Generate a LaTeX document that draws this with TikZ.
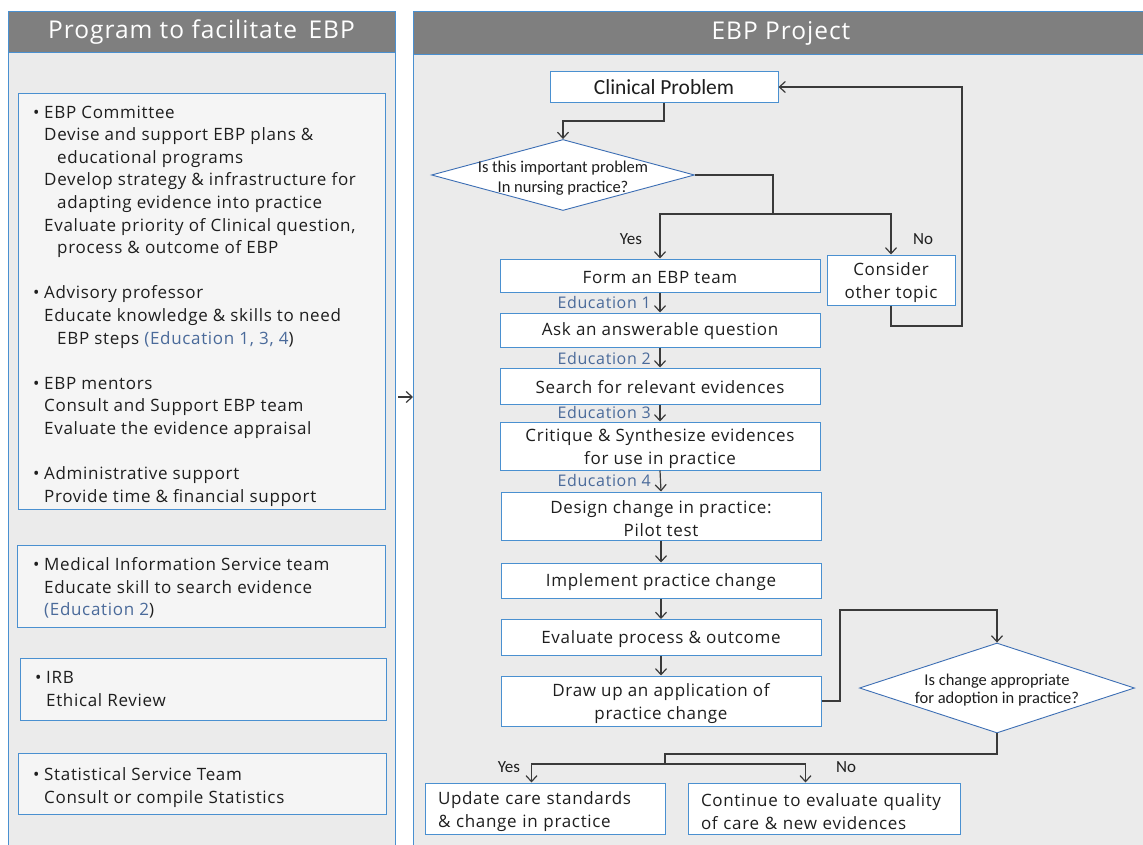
\documentclass[tikz,border=0pt]{standalone}
\usepackage{fontspec}
\setmainfont{Open Sans}[LetterSpace=4]
\newfontfamily\narrowfont{Carlito}
\usetikzlibrary{arrows.meta,shapes.geometric,calc}
\definecolor{frameblue}{HTML}{4A90D0}
\definecolor{panelgray}{HTML}{EBEBEB}
\definecolor{headgray}{HTML}{7F7F7F}
\definecolor{boxfill}{HTML}{F5F5F5}
\definecolor{edublue}{HTML}{4A6A9A}
\definecolor{linegray}{HTML}{3A3A3A}
\definecolor{diamblue}{HTML}{3C6EB4}
\definecolor{txt}{HTML}{1E1E1E}
\newcommand{\bl}{\makebox[11pt][l]{•}}
\newcommand{\ia}{\hspace*{11pt}}
\newcommand{\ib}{\hspace*{24pt}}
\newcommand{\tstrut}{\rule{0pt}{19pt}}
\begin{document}
\begin{tikzpicture}[x=1pt,y=-1pt,
  panel/.style={draw=frameblue, fill=panelgray, line width=1pt},
  head/.style={draw=frameblue, fill=headgray, line width=1pt},
  headtext/.style={text=white, font=\fontsize{24.5}{30}\selectfont},
  lbox/.style={draw=frameblue, fill=boxfill, line width=1pt, anchor=north west, inner sep=0pt},
  ltext/.style={anchor=north west, inner sep=0pt, align=left, text=txt, font=\fontsize{17}{22.6}\selectfont},
  fbox/.style={draw=frameblue, fill=white, line width=1pt, inner sep=0pt, align=center, text=txt, font=\fontsize{17}{23}\selectfont, execute at begin node={\rule{0pt}{16pt}}},
  twoline/.style={execute at begin node={\rule{0pt}{19pt}}},
  dia/.style={diamond, draw=diamblue, fill=white, line width=0.9pt, inner sep=0pt},
  diatext/.style={inner sep=0pt, align=center, text=txt, font=\narrowfont\fontsize{16.5}{20}\selectfont},
  edu/.style={anchor=east, inner sep=0pt, text=edublue, font=\fontsize{16}{18}\selectfont},
  lab/.style={inner sep=0pt, text=txt, font=\narrowfont\fontsize{17}{18}\selectfont},
  conn/.style={draw=linegray, line width=1.2pt},
  arr/.style={conn, -{Straight Barb[length=6pt,width=11pt,line width=1.2pt]}},
]
\useasboundingbox (0,0) rectangle (1143,845);
\clip (0,0) rectangle (1143,845);
\fill[white] (0,0) rectangle (1143,845);

% panels
\draw[panel] (8,12) rectangle (395,860);
\draw[head] (8,12) rectangle (395,53);
\node[headtext] (lhead) at (201.5,32.5) {Program to facilitate\, EBP};
\draw[panel] (413,12) rectangle (1160,860);
\draw[head] (413,12) rectangle (1160,55);
\node[headtext] (rhead) at (781,33) {EBP Project};

% left boxes
\node[lbox, minimum width=367, minimum height=416] (committee) at (18,93) {};
\node[ltext] (committeetxt) at (33,105.5) {\bl EBP Committee\\
\ia Devise and support EBP plans \&\\
\ib educational programs\\
\ia Develop strategy \& infrastructure for\\
\ib adapting evidence into practice\\
\ia Evaluate priority of Clinical question,\\
\ib process \& outcome of EBP\\[22.6pt]
\bl Advisory professor\\
\ia Educate knowledge \& skills to need\\
\ib EBP steps {\color{edublue}(Education 1, 3, 4}) \\[22.6pt]
\bl EBP mentors\\
\ia Consult and Support EBP team\\
\ia Evaluate the evidence appraisal\\[22.6pt]
\bl Administrative support\\
\ia Provide time \& financial support};

\node[lbox, minimum width=368, minimum height=82] (mis) at (17,545) {};
\node[ltext] (mistxt) at (33,557.5) {\bl Medical Information Service team\\
\ia Educate skill to search evidence\\
\ia{\color{edublue}(Education 2})};

\node[lbox, minimum width=366, minimum height=62] (irb) at (20,658) {};
\node[ltext] (irbtxt) at (35,671.5) {\bl IRB\\
\ia Ethical Review};

\node[lbox, minimum width=368, minimum height=61] (stat) at (18,753) {};
\node[ltext] (stattxt) at (33,767.5) {\bl Statistical Service Team\\
\ia Consult or compile Statistics};

\coordinate (la) at (398,397);
\coordinate (ra) at (413,397);
\draw[arr] (la) -- (ra);

% right flowchart
\node[fbox, minimum width=228, minimum height=31, font=\narrowfont\fontsize{21.5}{23}\selectfont, execute at begin node={}] (clin) at (664,87) {Clinical Problem};
\node[dia, minimum width=263, minimum height=71,
  label={[diatext, name=d1t, yshift=-3pt]center:Is this important problem\\In nursing practice?}] (d1) at (563,175) {};
\node[fbox, minimum width=320, minimum height=33] (form) at (660,275.5) {Form an EBP team};
\node[fbox, minimum width=128, minimum height=50, execute at begin node={}] (consider) at (891,280) {\tstrut Consider\\other topic};
\node[fbox, minimum width=320, minimum height=34] (ask) at (660,330) {Ask an answerable question};
\node[fbox, minimum width=320, minimum height=36] (search) at (660,386) {Search for relevant evidences};
\node[fbox, minimum width=320, minimum height=48, execute at begin node={}] (crit) at (660,446) {\tstrut Critique \& Synthesize evidences\\for use in practice};
\node[fbox, minimum width=320, minimum height=48, execute at begin node={}] (design) at (661,516) {\tstrut Design change in practice:\\Pilot test};
\node[fbox, minimum width=320, minimum height=35] (impl) at (661,580.5) {Implement practice change};
\node[fbox, minimum width=320, minimum height=36] (eval) at (661,637.5) {Evaluate process \& outcome};
\node[fbox, minimum width=320, minimum height=50, execute at begin node={}] (drawup) at (661,701) {\tstrut Draw up an application of\\practice change};
\node[dia, minimum width=275, minimum height=90,
  label={[diatext, name=d2t, yshift=-2pt, font=\narrowfont\fontsize{16.5}{18}\selectfont]center:Is change appropriate\\for adoption in practice?}] (d2) at (997,688) {};
\node[fbox, twoline, minimum width=240, minimum height=51, align=left, text width=214, inner xsep=13pt] (update) at (545,808.5) {Update care standards\\\& change in practice};
\node[fbox, twoline, minimum width=272, minimum height=51, align=left, text width=246, inner xsep=13pt] (cont) at (824,808.5) {Continue to evaluate quality\\of care \& new evidences};

% labels
\node[lab] (yes1) at (631,239) {Yes};
\node[lab] (no1) at (923,239) {No};
\node[lab] (yes2) at (509,767) {Yes};
\node[lab] (no2) at (846,767) {No};
\node[edu] (e1) at (651,302) {Education 1};
\node[edu] (e2) at (651,358) {Education 2};
\node[edu] (e3) at (651,412) {Education 3};
\node[edu] (e4) at (651,480) {Education 4};

% connectors
\draw[arr] (clin.south) -- ++(0,18) -| (d1.north);
\coordinate (j1) at (773,214);
\draw[conn] (d1.east) -| (j1);
\draw[arr] (j1) -| (form.north);
\draw[arr] (j1) -| (consider.north);
\coordinate (lp) at (962,326);
\draw[arr] (consider.south) |- (lp) |- (clin.east);
\draw[arr] (form.south) -- (ask.north);
\draw[arr] (ask.south) -- (search.north);
\draw[arr] (search.south) -- (crit.north);
\draw[arr] (crit.south) -- (design.north);
\draw[arr] (design.south) -- (impl.north);
\draw[arr] (impl.south) -- (eval.north);
\draw[arr] (eval.south) -- (drawup.north);
\coordinate (k1) at (840,610);
\draw[arr] (drawup.east) -| (k1) -| (d2.north);
\coordinate (k2a) at (665,754);
\coordinate (k2) at (665,764);
\draw[conn] (d2.south) |- (k2a) -- (k2);
\draw[arr] (k2) -| ($(update.north west)+(107,0)$);
\draw[arr] (k2) -| ($(cont.north west)+(118,0)$);
\end{tikzpicture}
\end{document}
